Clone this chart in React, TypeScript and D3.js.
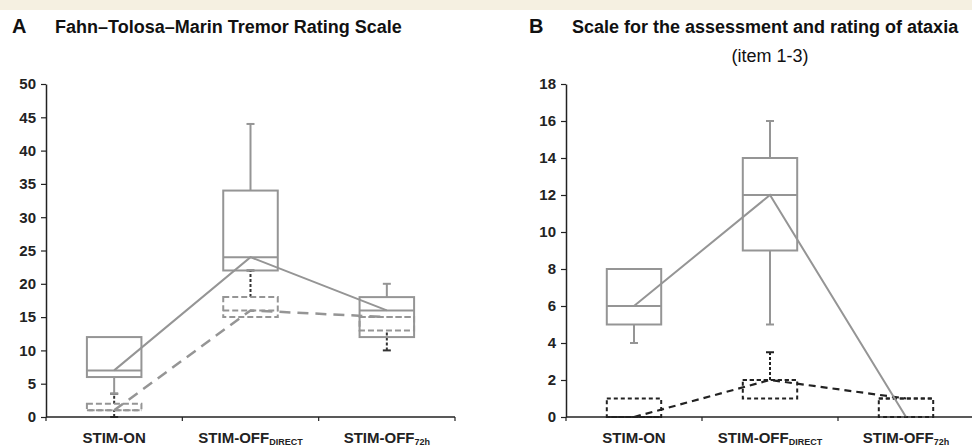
import React, { useEffect, useRef } from 'react';
import * as d3 from 'd3';

// category labels (main text + subscript)
const categories = ['STIM-ON', 'STIM-OFF DIRECT', 'STIM-OFF 72h'];
const labelMain = ['STIM-ON', 'STIM-OFF', 'STIM-OFF'];
const labelSub = ['', 'DIRECT', '72h'];

// Panel A: Fahn-Tolosa-Marin, box stats per category
const ftmSolid = [
  { min: 3.5, q1: 6, median: 7, q3: 12, max: 12 },
  { min: 22, q1: 22, median: 24, q3: 34, max: 44 },
  { min: 12, q1: 12, median: 16, q3: 18, max: 20 },
];
const ftmDashed = [
  { min: 0, q1: 1, median: 1, q3: 2, max: 3.5 },
  { min: 15, q1: 15, median: 16, q3: 18, max: 22 },
  { min: 10, q1: 13, median: 15, q3: 15, max: 15 },
];
const ftmTicks = [0, 5, 10, 15, 20, 25, 30, 35, 40, 45, 50];

// Panel B: SARA items 1-3
const saraSolid = [
  { min: 4, q1: 5, median: 6, q3: 8, max: 8 },
  { min: 5, q1: 9, median: 12, q3: 14, max: 16 },
  { min: 0, q1: 0, median: 0, q3: 0, max: 0 },
];
const saraDashed = [
  { min: 0, q1: 0, median: 0, q3: 1, max: 1 },
  { min: 1, q1: 1, median: 2, q3: 2, max: 3.5 },
  { min: 0, q1: 0, median: 1, q3: 1, max: 1 },
];
const saraTicks = [0, 2, 4, 6, 8, 10, 12, 14, 16, 18];

type Box = { min: number; q1: number; median: number; q3: number; max: number };

const W = 972;
const H = 448;
const FONT = '"Liberation Sans", Arial, sans-serif';

function drawPanel(svg, opts) {
  const { left, right, top, bottom, domainMax, ticks, solid, dashed, style } = opts;
  const x = d3.scaleBand().domain(categories).range([left, right]).paddingInner(0).paddingOuter(0);
  const y = d3.scaleLinear().domain([0, domainMax]).range([bottom, top]);
  const boxW = x.bandwidth() * 0.4;
  const cx = (c) => x(c) + x.bandwidth() / 2;
  const g = svg.append('g');

  // boxes
  const drawBoxes = (data: Box[], s) => {
    data.forEach((d, i) => {
      const c = cx(categories[i]);
      if (d.q3 === d.q1 && d.max === d.min) return;
      // whiskers
      [[d.q3, d.max], [d.min, d.q1]].forEach(([a, b]) => {
        if (a === b) return;
        g.append('line')
          .attr('x1', c).attr('x2', c)
          .attr('y1', y(a)).attr('y2', y(b))
          .attr('stroke', s.whisker).attr('stroke-width', s.width)
          .attr('stroke-dasharray', s.whiskerDash);
      });
      [d.max, d.min].forEach((v) => {
        if (v === d.q3 || v === d.q1) return;
        g.append('line')
          .attr('x1', c - 4).attr('x2', c + 4)
          .attr('y1', y(v)).attr('y2', y(v))
          .attr('stroke', s.whisker).attr('stroke-width', s.width);
      });
      g.append('rect')
        .attr('x', c - boxW / 2).attr('width', boxW)
        .attr('y', y(d.q3)).attr('height', y(d.q1) - y(d.q3))
        .attr('fill', 'none')
        .attr('stroke', s.color).attr('stroke-width', s.width)
        .attr('stroke-dasharray', s.dash);
      g.append('line')
        .attr('x1', c - boxW / 2).attr('x2', c + boxW / 2)
        .attr('y1', y(d.median)).attr('y2', y(d.median))
        .attr('stroke', s.color).attr('stroke-width', s.width)
        .attr('stroke-dasharray', s.dash);
    });
  };
  drawBoxes(dashed, style.dashed);
  drawBoxes(solid, style.solid);

  // median connecting lines
  const line = d3.line<Box>()
    .x((d, i) => cx(categories[i]))
    .y((d) => y(d.median));
  g.append('path').datum(dashed)
    .attr('d', line).attr('fill', 'none')
    .attr('stroke', style.dashedLine.color).attr('stroke-width', style.dashedLine.width)
    .attr('stroke-dasharray', style.dashedLine.dash);
  g.append('path').datum(solid)
    .attr('d', line).attr('fill', 'none')
    .attr('stroke', style.solid.color).attr('stroke-width', 2);

  // y axis
  g.append('g')
    .attr('transform', `translate(${left},0)`)
    .call(d3.axisLeft(y).tickValues(ticks).tickSize(5).tickPadding(5).tickSizeOuter(0))
    .call((a) => a.select('.domain').attr('stroke', '#222').attr('stroke-width', 1.5))
    .call((a) => a.selectAll('.tick line').attr('stroke', '#222').attr('stroke-width', 1.2))
    .call((a) => a.selectAll('text')
      .attr('font-family', FONT).attr('font-size', 15).attr('font-weight', 'bold').attr('fill', '#222'));

  // x axis with ticks at band boundaries
  const xa = g.append('g');
  xa.append('line')
    .attr('x1', left).attr('x2', right).attr('y1', bottom).attr('y2', bottom)
    .attr('stroke', '#222').attr('stroke-width', 1.5);
  categories.forEach((c, i) => {
    xa.append('line')
      .attr('x1', x(c)).attr('x2', x(c)).attr('y1', bottom).attr('y2', bottom + 4)
      .attr('stroke', '#222').attr('stroke-width', 1.2);
    if (i === categories.length - 1) {
      xa.append('line')
        .attr('x1', x(c) + x.bandwidth()).attr('x2', x(c) + x.bandwidth())
        .attr('y1', bottom).attr('y2', bottom + 4)
        .attr('stroke', '#222').attr('stroke-width', 1.2);
    }
    const t = xa.append('text')
      .attr('x', cx(c)).attr('y', bottom + 26)
      .attr('text-anchor', 'middle')
      .attr('font-family', FONT).attr('font-size', 15).attr('font-weight', 'bold').attr('fill', '#222')
      .text(labelMain[i]);
    if (labelSub[i]) {
      t.append('tspan').attr('font-size', 9).attr('dy', 2).text(labelSub[i]);
    }
  });
}

export default function App() {
  const svgRef = useRef(null);

  useEffect(() => {
    const svg = d3.select(svgRef.current);
    svg.selectAll('*').remove();

    svg.append('rect').attr('width', W).attr('height', H).attr('fill', '#fff');
    svg.append('rect').attr('width', W).attr('height', 10).attr('fill', '#f5f0e1');

    // titles
    svg.append('text').attr('x', 12).attr('y', 33)
      .attr('font-family', FONT).attr('font-size', 20).attr('font-weight', 'bold').attr('fill', '#111')
      .text('A');
    svg.append('text').attr('x', 55).attr('y', 33)
      .attr('font-family', FONT).attr('font-size', 18).attr('font-weight', 'bold').attr('fill', '#111')
      .text('Fahn–Tolosa–Marin Tremor Rating Scale');
    svg.append('text').attr('x', 529).attr('y', 33)
      .attr('font-family', FONT).attr('font-size', 20).attr('font-weight', 'bold').attr('fill', '#111')
      .text('B');
    svg.append('text').attr('x', 572).attr('y', 33)
      .attr('font-family', FONT).attr('font-size', 18).attr('font-weight', 'bold').attr('fill', '#111')
      .text('Scale for the assessment and rating of ataxia');
    svg.append('text').attr('x', 770).attr('y', 62).attr('text-anchor', 'middle')
      .attr('font-family', FONT).attr('font-size', 18).attr('fill', '#111')
      .text('(item 1-3)');

    drawPanel(svg, {
      left: 46, right: 455, top: 84, bottom: 417, domainMax: 50, ticks: ftmTicks,
      solid: ftmSolid, dashed: ftmDashed,
      style: {
        solid: { color: '#959595', width: 2, dash: null, whisker: '#959595', whiskerDash: null },
        dashed: { color: '#959595', width: 2, dash: '6,3', whisker: '#333', whiskerDash: '3,2' },
        dashedLine: { color: '#959595', width: 2.5, dash: '11,7' },
      },
    });
    drawPanel(svg, {
      left: 566, right: 974, top: 84, bottom: 417, domainMax: 18, ticks: saraTicks,
      solid: saraSolid, dashed: saraDashed,
      style: {
        solid: { color: '#959595', width: 2, dash: null, whisker: '#959595', whiskerDash: null },
        dashed: { color: '#222', width: 2, dash: '4,3', whisker: '#222', whiskerDash: '3,2' },
        dashedLine: { color: '#222', width: 2.2, dash: '7,5' },
      },
    });
  }, []);

  return (
    <svg ref={svgRef} width={W} height={H} style={{ position: 'absolute', left: 0, top: 0 }} />
  );
}
